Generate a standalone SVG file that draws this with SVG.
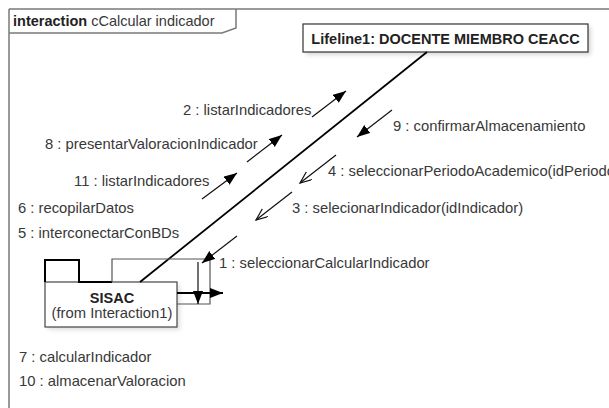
<svg xmlns="http://www.w3.org/2000/svg" width="609" height="408" viewBox="0 0 609 408">
  <style>
    .lbl { font-family: "Liberation Sans", Arial, sans-serif; font-size: 14.8px; fill: #383838; }
    .bold { font-family: "Liberation Sans", Arial, sans-serif; font-size: 14.5px; font-weight: bold; fill: #222; }
    .msg { stroke: #111; stroke-width: 1.2; fill: none; }
    .frame { stroke: #7a7a7a; stroke-width: 1.5; fill: none; }
  </style>
  <defs>
    <marker id="filled" markerUnits="userSpaceOnUse" markerWidth="14" markerHeight="12" refX="13" refY="5" orient="auto">
      <path d="M0,0 L13,5 L0,10 Z" fill="#000"/>
    </marker>
    <marker id="open" markerUnits="userSpaceOnUse" markerWidth="14" markerHeight="12" refX="12" refY="5" orient="auto">
      <path d="M0,0 L12,5 L0,10" fill="none" stroke="#111" stroke-width="1.2"/>
    </marker>
    <filter id="soft" x="-10%" y="-30%" width="120%" height="160%">
      <feGaussianBlur stdDeviation="2"/>
    </filter>
  </defs>

  <rect width="609" height="408" fill="#fff"/>

  <!-- interaction frame -->
  <g id="frame">
    <path class="frame" d="M9,9 H609 M9,9 V408"/>
    <path class="frame" d="M236,9 V28 L222,33 H9"/>
    <text x="13" y="26"><tspan class="bold" style="fill:#222">interaction</tspan><tspan class="lbl" style="font-size:14.5px"> cCalcular indicador</tspan></text>
  </g>

  <!-- lifeline head -->
  <g id="lifeline1">
    <rect x="306" y="27" width="285" height="28" fill="#d8d8d8" filter="url(#soft)"/>
    <rect x="303" y="24" width="285" height="28" fill="#fff" stroke="#333" stroke-width="1.2"/>
    <text class="bold" x="445.5" y="44" text-anchor="middle">Lifeline1: DOCENTE MIEMBRO CEACC</text>
  </g>

  <!-- SISAC component -->
  <g id="sisac">
    <rect x="48" y="285" width="132" height="45" fill="#e0e0e0" filter="url(#soft)"/>
    <rect x="45" y="282" width="132" height="45" fill="#fff" stroke="#444" stroke-width="1.2"/>
    <path d="M45,282 V260 H79 V282 H112" fill="none" stroke="#000" stroke-width="2"/>
    <text class="bold" x="112" y="303" text-anchor="middle">SISAC</text>
    <text class="lbl" x="112" y="318" text-anchor="middle">(from Interaction1)</text>
  </g>

  <!-- connectors -->
  <g id="connectors">
    <!-- link between lifeline and SISAC -->
    <line x1="427" y1="52" x2="140" y2="282" stroke="#000" stroke-width="1.8"/>
    <!-- self loop on SISAC -->
    <path d="M112,282 V259 H210 V304 H177" fill="none" stroke="#555" stroke-width="1.2"/>
    <line x1="198" y1="262" x2="198" y2="304" class="msg" marker-end="url(#filled)"/>
    <line x1="177" y1="293" x2="223" y2="293" stroke="#000" stroke-width="2" marker-end="url(#filled)"/>

    <!-- message arrows -->
    <line class="msg" x1="312" y1="117" x2="346" y2="91" marker-end="url(#filled)"/>
    <line class="msg" x1="392" y1="110" x2="357" y2="137" marker-end="url(#filled)"/>
    <line class="msg" x1="247" y1="162" x2="282" y2="135" marker-end="url(#filled)"/>
    <line class="msg" x1="336" y1="155" x2="300" y2="183" marker-end="url(#open)"/>
    <line class="msg" x1="202" y1="199" x2="237" y2="173" marker-end="url(#filled)"/>
    <line class="msg" x1="292" y1="192" x2="256" y2="220" marker-end="url(#open)"/>
    <line class="msg" x1="237" y1="236" x2="202" y2="263" marker-end="url(#filled)"/>
  </g>

  <!-- message labels -->
  <g id="labels">
    <text class="lbl" x="183" y="115">2 : listarIndicadores</text>
    <text class="lbl" x="393" y="131">9 : confirmarAlmacenamiento</text>
    <text class="lbl" x="45" y="149">8 : presentarValoracionIndicador</text>
    <text class="lbl" x="328" y="176">4 : seleccionarPeriodoAcademico(idPeriodo</text>
    <text class="lbl" x="74" y="186">11 : listarIndicadores</text>
    <text class="lbl" x="292" y="213">3 : selecionarIndicador(idIndicador)</text>
    <text class="lbl" x="18" y="213">6 : recopilarDatos</text>
    <text class="lbl" x="18" y="238">5 : interconectarConBDs</text>
    <text class="lbl" x="219" y="268">1 : seleccionarCalcularIndicador</text>
    <text class="lbl" x="19" y="362">7 : calcularIndicador</text>
    <text class="lbl" x="19" y="386">10 : almacenarValoracion</text>
  </g>
</svg>
